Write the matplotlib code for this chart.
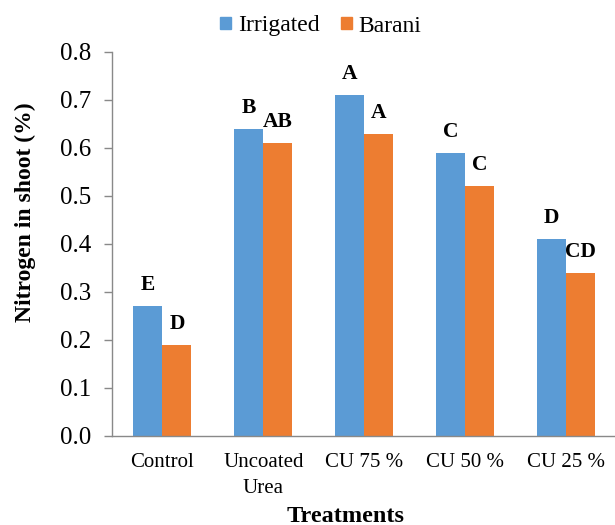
import matplotlib
matplotlib.use("Agg")
import matplotlib.pyplot as plt
from matplotlib.patches import Patch
import numpy as np

categories = ["Control", "Uncoated\nUrea", "CU 75 %", "CU 50 %", "CU 25 %"]
irrigated = [0.27, 0.64, 0.71, 0.59, 0.41]
barani = [0.19, 0.61, 0.63, 0.52, 0.34]
irr_letters = ["E", "B", "A", "C", "D"]
bar_letters = ["D", "AB", "A", "C", "CD"]
yticks = [0.0, 0.1, 0.2, 0.3, 0.4, 0.5, 0.6, 0.7, 0.8]

plt.rcParams['font.family'] = ['Liberation Serif', 'DejaVu Serif']

blue = "#5B9BD5"
orange = "#ED7D31"
gray = "#898989"

fig = plt.figure(figsize=(6.15, 5.25), dpi=100)
ax = fig.add_axes([112/615, 1 - 436/525, (616.5-112)/615, (436-52)/525])

x = np.arange(len(categories))
w = 0.287
b1 = ax.bar(x - w/2, irrigated, w, color=blue)
b2 = ax.bar(x + w/2, barani, w, color=orange)

for rect, lab in zip(b1, irr_letters):
    ax.annotate(lab, (rect.get_x() + rect.get_width()/2, rect.get_height()),
                xytext=(0, 16), textcoords='offset pixels', ha='center', va='baseline',
                fontsize=15.5, fontweight='bold')
for rect, lab in zip(b2, bar_letters):
    ax.annotate(lab, (rect.get_x() + rect.get_width()/2, rect.get_height()),
                xytext=(0, 16), textcoords='offset pixels', ha='center', va='baseline',
                fontsize=15.5, fontweight='bold')

ax.set_xlim(-0.5, 4.5)
ax.set_ylim(0, 0.8)
ax.set_yticks(yticks)
ax.set_yticklabels([f"{v:.1f}" for v in yticks], fontsize=18)
ax.set_xticks(x)
ax.set_xticklabels(categories, fontsize=15, linespacing=1.5)
ax.tick_params(axis='x', length=0, pad=12)
ax.tick_params(axis='y', length=6, color=gray, width=1, pad=9)

for s in ['top', 'right']:
    ax.spines[s].set_visible(False)
for s in ['left', 'bottom']:
    ax.spines[s].set_color(gray)
    ax.spines[s].set_linewidth(1)

fig.text(25/615, 1 - 212/525, "Nitrogen in shoot (%)", rotation=90, ha='center', va='center',
         fontsize=17, fontweight='bold')
fig.text(346/615, 1 - 516/525, "Treatments", ha='center', va='center',
         fontsize=17.5, fontweight='bold')

handles = [Patch(color=blue, label="Irrigated"), Patch(color=orange, label="Barani")]
fig.legend(handles=handles, loc='center', bbox_to_anchor=(321/615, 1 - 26/525), ncol=2,
           frameon=False, fontsize=17, handlelength=0.45, handleheight=0.45,
           handletextpad=0.3, columnspacing=0.9)

fig.savefig("out.png", dpi=100)
